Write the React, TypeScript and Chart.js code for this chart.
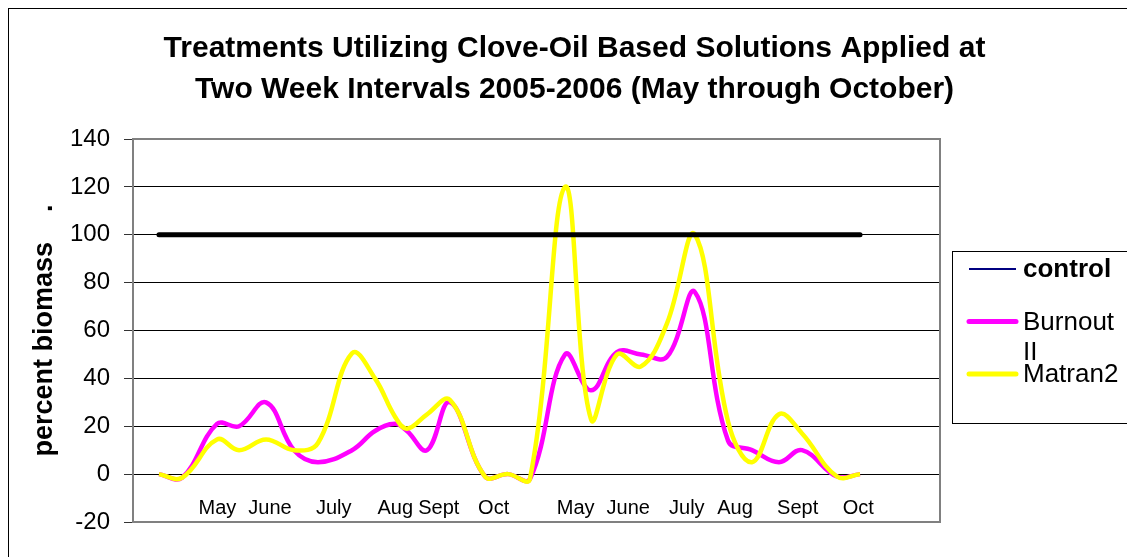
import React, { useEffect, useRef } from "react";
import { Chart, registerables } from "chart.js";

Chart.register(...registerables);

const FONT = '"Liberation Sans", Arial, Helvetica, sans-serif';

const chartTitle = [
  "Treatments Utilizing Clove-Oil Based Solutions Applied at",
  "Two Week Intervals 2005-2006 (May through October)",
];
const yAxisTitle = "percent biomass    .";

const seriesNames = ["control", "Burnout II", "Matran2"];

// sampling position along the (two seasons joined) time axis, in weeks
const sampleWeek = [
  2.06, 3.89, 6.66, 8.41, 10.55, 12.77, 14.67, 17.37, 19.19, 20.78, 21.73, 23.32, 25.14, 27.92,
  29.74, 31.48, 34.26, 36.32, 38.38, 40.29, 42.35, 44.57, 47.19, 49.09, 51.23, 53.06, 55.83, 57.66,
];

const controlValues = [
  100, 100, 100, 100, 100, 100, 100, 100, 100, 100, 100, 100, 100, 100,
  100, 100, 100, 100, 100, 100, 100, 100, 100, 100, 100, 100, 100, 100,
];
const burnoutValues = [
  0, -1.5, 21, 20, 30, 10, 5, 10, 18, 21, 18, 10, 30, -1,
  0, -2, 50, 35, 51, 50, 49, 76, 14, 10, 5, 10, -1, 0,
];
const matranValues = [
  0, -1.5, 14.5, 10, 14.5, 10, 13, 50.5, 40, 24, 19, 25, 31, -1,
  0, -2, 120, 23, 50, 45, 63, 100, 22, 5, 25, 17, -1, 0,
];

const monthLabels = ["May", "June", "July", "Aug", "Sept", "Oct", "May", "June", "July", "Aug", "Sept", "Oct"];
const monthTickWeek = [6.7, 10.86, 15.92, 20.8, 24.25, 28.6, 35.11, 39.28, 43.92, 47.74, 52.71, 57.52];

const xMin = 0;
const xMax = 64;
const yMin = -20;
const yMax = 140;
const yStep = 20;

const toPoints = (vals: number[]) => sampleWeek.map((x, i) => ({ x, y: vals[i] }));

const legendStyles = [
  { color: "#000080", width: 2, bold: true },
  { color: "#FF00FF", width: 5, bold: false },
  { color: "#FFFF00", width: 5, bold: false },
];

const framePlugin = {
  id: "frameAndLegend",
  afterDraw(chart: any) {
    const ctx = chart.ctx as CanvasRenderingContext2D;
    const a = chart.chartArea;
    ctx.save();
    // plot area frame
    ctx.strokeStyle = "#808080";
    ctx.lineWidth = 2;
    ctx.strokeRect(a.left, a.top, a.right - a.left, a.bottom - a.top);

    // legend box
    const bx = a.right + 12;
    const by = a.top + 112;
    ctx.strokeStyle = "#000";
    ctx.lineWidth = 1;
    ctx.strokeRect(bx + 0.5, by + 0.5, 190, 172);

    const textX = bx + 71;
    const maxW = 100;
    seriesNames.forEach((name, i) => {
      const st = legendStyles[i];
      const ly = by + 18 + i * 52.5;
      ctx.beginPath();
      ctx.strokeStyle = st.color;
      ctx.lineWidth = st.width;
      ctx.lineCap = st.width > 2 ? "round" : "butt";
      ctx.moveTo(bx + 17, ly);
      ctx.lineTo(bx + 64, ly);
      ctx.stroke();

      ctx.font = `${st.bold ? "bold " : ""}26px ${FONT}`;
      ctx.fillStyle = "#000";
      ctx.textAlign = "left";
      ctx.textBaseline = "middle";
      // simple word wrap
      const words = name.split(" ");
      const lines: string[] = [];
      let cur = "";
      words.forEach((w) => {
        const test = cur ? cur + " " + w : w;
        if (cur && ctx.measureText(test).width > maxW) {
          lines.push(cur);
          cur = w;
        } else {
          cur = test;
        }
      });
      if (cur) lines.push(cur);
      lines.forEach((ln, j) => ctx.fillText(ln, textX, ly + 1 + j * 30));
    });
    ctx.restore();
  },
};

export default function App() {
  const ref = useRef<HTMLCanvasElement>(null);

  useEffect(() => {
    if (!ref.current) return;
    const chart = new Chart(ref.current, {
      type: "line",
      data: {
        datasets: [
          {
            label: seriesNames[0],
            data: toPoints(controlValues),
            borderColor: "#000000",
            borderWidth: 5,
            borderCapStyle: "round",
            pointRadius: 0,
            tension: 0,
            order: 0,
          },
          {
            label: seriesNames[2],
            data: toPoints(matranValues),
            borderColor: "#FFFF00",
            borderWidth: 4.5,
            pointRadius: 0,
            tension: 0.4,
            order: 1,
          },
          {
            label: seriesNames[1],
            data: toPoints(burnoutValues),
            borderColor: "#FF00FF",
            borderWidth: 4.5,
            pointRadius: 0,
            tension: 0.4,
            order: 2,
          },
        ],
      },
      options: {
        animation: false,
        responsive: true,
        maintainAspectRatio: false,
        devicePixelRatio: 1,
        layout: { padding: { left: 0, right: 0, top: 0, bottom: 35 } },
        plugins: {
          legend: { display: false },
          tooltip: { enabled: false },
          title: {
            display: true,
            text: chartTitle,
            color: "#000",
            font: { family: FONT, size: 30, weight: "bold", lineHeight: 41 / 30 },
            padding: { top: 19, bottom: 29 },
          },
        },
        scales: {
          x: {
            type: "linear",
            position: { y: yMin },
            min: xMin,
            max: xMax,
            grid: { display: false, drawTicks: false },
            border: { display: false },
            afterBuildTicks: (s: any) => {
              s.ticks = monthTickWeek.map((v) => ({ value: v }));
            },
            afterFit: (s: any) => {
              s.height = 10;
            },
            ticks: {
              autoSkip: false,
              maxRotation: 0,
              minRotation: 0,
              padding: -26,
              color: "#000",
              font: { family: FONT, size: 20 },
              callback: (_v: any, i: number) => monthLabels[i],
            },
          },
          y: {
            type: "linear",
            position: "left",
            min: yMin,
            max: yMax,
            afterFit: (s: any) => {
              s.width = 124;
            },
            ticks: {
              stepSize: yStep,
              padding: 14,
              color: "#000",
              font: { family: FONT, size: 24 },
            },
            grid: { color: "#000", lineWidth: 1, tickLength: 9, tickColor: "#333", drawTicks: true },
            border: { display: true, color: "#808080", width: 2 },
            title: {
              display: true,
              text: yAxisTitle,
              color: "#000",
              font: { family: FONT, size: 27, weight: "bold" },
              padding: { top: 19, bottom: 0 },
            },
          },
          legendSpace: {
            type: "linear",
            position: "right",
            display: true,
            grid: { display: false, drawTicks: false },
            border: { display: false },
            ticks: { display: false },
            afterFit: (s: any) => {
              s.width = 200;
            },
          },
        },
      } as any,
      plugins: [framePlugin],
    });
    return () => chart.destroy();
  }, []);

  return (
    <div
      style={{
        position: "fixed",
        left: 0,
        top: 0,
        width: 1127,
        height: 557,
        overflow: "hidden",
        background: "#fff",
      }}
    >
      <div
        style={{
          position: "absolute",
          left: 8,
          top: 8,
          width: 1300,
          height: 700,
          borderLeft: "1px solid #000",
          borderTop: "1px solid #000",
        }}
      />
      <div style={{ position: "absolute", left: 9, top: 9, width: 1131, height: 548 }}>
        <canvas ref={ref} />
      </div>
    </div>
  );
}
